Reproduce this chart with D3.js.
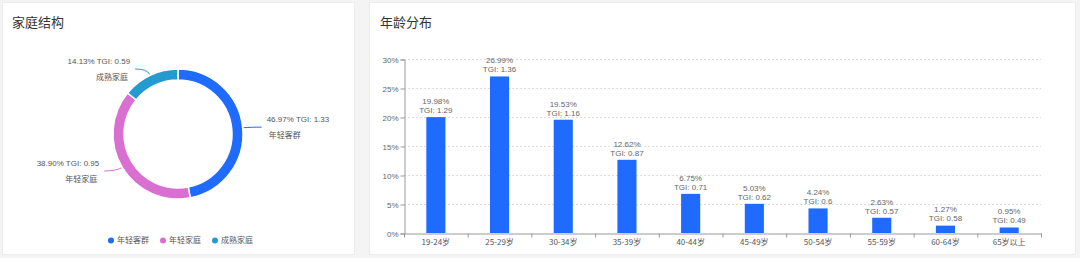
<!DOCTYPE html>
<html>
<head>
<meta charset="utf-8">
<script src="https://cdn.jsdelivr.net/npm/d3@7/dist/d3.min.js"></script>
<style>
  html, body { margin: 0; padding: 0; background: #f4f4f4; }
  svg { display: block; font-family: "Liberation Sans", "Noto Sans CJK SC", sans-serif; }
</style>
</head>
<body>
<svg id="chart" width="1080" height="258"></svg>
<script>
// Household structure (donut)
const familyNames = ["年轻客群", "年轻家庭", "成熟家庭"];
const familyShare = [46.97, 38.90, 14.13];
const familyTgi = ["1.33", "0.95", "0.59"];
const familyColors = ["#1f6bff", "#da6fd2", "#239bd1"];

// Age distribution (bars)
const ageGroups = ["19-24岁", "25-29岁", "30-34岁", "35-39岁", "40-44岁", "45-49岁", "50-54岁", "55-59岁", "60-64岁", "65岁以上"];
const ageShare = [19.98, 26.99, 19.53, 12.62, 6.75, 5.03, 4.24, 2.63, 1.27, 0.95];
const ageTgi = ["1.29", "1.36", "1.16", "0.87", "0.71", "0.62", "0.6", "0.57", "0.58", "0.49"];
const yTicks = [0, 5, 10, 15, 20, 25, 30];

const svg = d3.select("#chart");
const CJK = "'Noto Sans CJK SC', 'Liberation Sans', sans-serif";

// Cards
svg.append("rect").attr("x", 2.5).attr("y", 2.5).attr("width", 352).attr("height", 252)
  .attr("fill", "#fff").attr("stroke", "#ececec");
svg.append("rect").attr("x", 369.5).attr("y", 2.5).attr("width", 706).attr("height", 252)
  .attr("fill", "#fff").attr("stroke", "#ececec");

svg.append("text").attr("x", 12).attr("y", 27).text("家庭结构")
  .style("font-family", CJK).style("font-size", "13px").attr("fill", "#333");
svg.append("text").attr("x", 380).attr("y", 27).text("年龄分布")
  .style("font-family", CJK).style("font-size", "13px").attr("fill", "#333");

// ---- Donut ----
const cx = 178, cy = 134, rOuter = 65, rInner = 54;
const pie = d3.pie().sort(null).value(d => d.v);
const arcs = pie(familyNames.map((n, i) => ({ n, v: familyShare[i], i })));
const arc = d3.arc().innerRadius(rInner).outerRadius(rOuter);
const g = svg.append("g").attr("transform", `translate(${cx},${cy})`);
g.selectAll("path.slice").data(arcs).join("path")
  .attr("class", "slice")
  .attr("d", arc)
  .attr("fill", d => familyColors[d.data.i])
  .attr("stroke", "#fff").attr("stroke-width", 1.5);

arcs.forEach(d => {
  const a = (d.startAngle + d.endAngle) / 2;
  const sx = Math.sin(a), sy = -Math.cos(a);
  const p0 = [sx * (rOuter + 1), sy * (rOuter + 1)];
  const p1 = [sx * (rOuter + 7), sy * (rOuter + 7)];
  const side = sx >= 0 ? 1 : -1;
  const p2 = [p1[0] + side * 12, p1[1]];
  const col = familyColors[d.data.i];
  g.append("path")
    .attr("d", `M${p0[0]},${p0[1]} Q${p1[0]},${p1[1]} ${p2[0]},${p2[1]}`)
    .attr("fill", "none").attr("stroke", col).attr("stroke-width", 1);
  const tx = p2[0] + side * 5;
  const anchor = side > 0 ? "start" : "end";
  g.append("text").attr("x", tx).attr("y", p2[1] - 8).attr("dy", "0.35em")
    .attr("text-anchor", anchor).style("font-size", "8px").attr("fill", "#555")
    .text(`${d.data.v.toFixed(2)}% TGI: ${familyTgi[d.data.i]}`);
  g.append("text").attr("x", tx + side * 2).attr("y", p2[1] + 8).attr("dy", "0.35em")
    .attr("text-anchor", anchor).style("font-size", "8px").style("font-family", CJK).attr("fill", "#555")
    .text(d.data.n);
});

// Legend
const legend = svg.append("g");
familyNames.forEach((n, i) => {
  const lx = 111 + i * 52;
  legend.append("circle").attr("cx", lx).attr("cy", 240.5).attr("r", 3).attr("fill", familyColors[i]);
  legend.append("text").attr("x", lx + 6).attr("y", 240.5).attr("dy", "0.35em")
    .style("font-size", "8px").style("font-family", CJK).attr("fill", "#555").text(n);
});

// ---- Bars ----
const x0 = 404, x1 = 1041, yBase = 233, yTop = 59;
const x = d3.scaleBand().domain(ageGroups).range([x0, x1]).padding(0);
const y = d3.scaleLinear().domain([0, 30]).range([yBase, yTop]);
const barW = x.bandwidth() * 0.3;

// grid
svg.append("g").selectAll("line").data(yTicks.filter(t => t > 0)).join("line")
  .attr("x1", x0).attr("x2", x1).attr("y1", d => y(d) + 0.5).attr("y2", d => y(d) + 0.5)
  .attr("stroke", "#dcdcdc").attr("stroke-dasharray", "2,2");

// y axis
const yAxis = svg.append("g").attr("transform", `translate(${x0 + 0.5},0.5)`)
  .call(d3.axisLeft(y).tickValues(yTicks).tickFormat(d => d + "%").tickSize(4).tickPadding(2));
yAxis.select(".domain").attr("stroke", "#999");
yAxis.selectAll(".tick line").attr("stroke", "#999");
yAxis.selectAll(".tick text").style("font-size", "8px").attr("fill", "#666");

// x axis
const xAxis = svg.append("g").attr("transform", `translate(0,${yBase + 0.5})`)
  .call(d3.axisBottom(x).tickSize(0).tickPadding(6));
xAxis.select(".domain").attr("stroke", "#999");
xAxis.selectAll(".tick text").style("font-size", "8px").style("font-family", CJK).attr("fill", "#555");
xAxis.selectAll("line.boundary").data(d3.range(ageGroups.length + 1)).join("line")
  .attr("class", "boundary")
  .attr("x1", i => x0 + i * x.step() + 0.5).attr("x2", i => x0 + i * x.step() + 0.5)
  .attr("y1", 0).attr("y2", 4).attr("stroke", "#999");

const bars = svg.append("g");
bars.selectAll("rect").data(ageGroups).join("rect")
  .attr("x", (d) => x(d) + (x.bandwidth() - barW) / 2)
  .attr("y", (d, i) => y(ageShare[i]))
  .attr("width", barW)
  .attr("height", (d, i) => yBase - y(ageShare[i]))
  .attr("fill", "#1f6bff");

bars.selectAll("text.v").data(ageGroups).join("text").attr("class", "v")
  .attr("x", d => x(d) + x.bandwidth() / 2)
  .attr("y", (d, i) => y(ageShare[i]) - 16).attr("dy", "0.35em")
  .attr("text-anchor", "middle").style("font-size", "8px").attr("fill", "#666")
  .text((d, i) => ageShare[i].toFixed(2) + "%");
bars.selectAll("text.t").data(ageGroups).join("text").attr("class", "t")
  .attr("x", d => x(d) + x.bandwidth() / 2)
  .attr("y", (d, i) => y(ageShare[i]) - 7).attr("dy", "0.35em")
  .attr("text-anchor", "middle").style("font-size", "8px").attr("fill", "#666")
  .text((d, i) => "TGI: " + ageTgi[i]);
</script>
</body>
</html>
